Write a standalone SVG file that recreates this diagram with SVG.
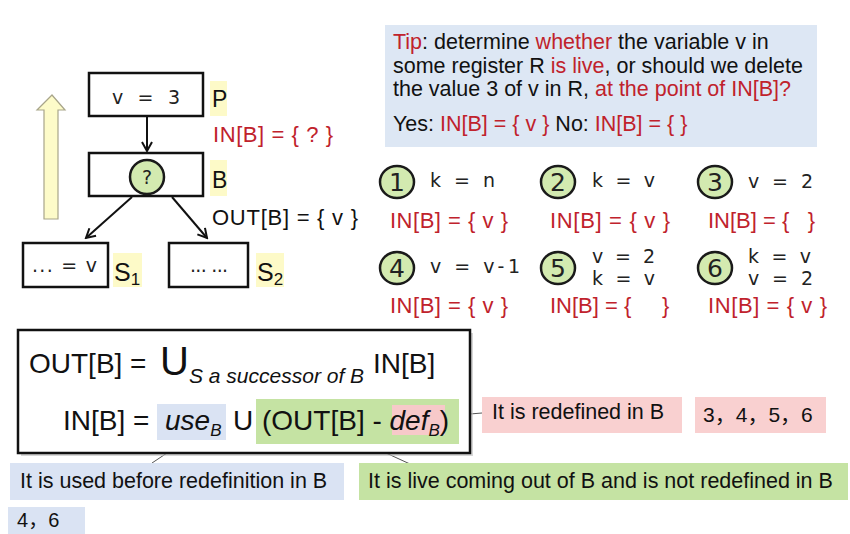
<svg xmlns="http://www.w3.org/2000/svg" width="850" height="534" viewBox="0 0 850 534">
<defs>
<style>
.t{font-family:"Liberation Sans",Arial,sans-serif;}
.cjk{font-family:"Noto Sans CJK SC","Liberation Sans",sans-serif;}
.c{font-family:"DejaVu Sans",Verdana,sans-serif;font-size:19px;fill:#222;}
.d{font-family:"DejaVu Sans",Verdana,sans-serif;font-size:25px;fill:#222;text-anchor:middle;}
.red{fill:#c0222c;}
.blk{fill:#111;}
.box{fill:#fff;stroke:#111;stroke-width:2.5;}
.num{fill:#d3eab0;stroke:#1a1a1a;stroke-width:2.5;}
.hl{fill:#fdfac8;}
.edge{stroke:#111;stroke-width:2;fill:none;}
.lead{stroke:#555;stroke-width:1;fill:none;}
</style>
<marker id="ah" viewBox="0 0 12 12" refX="10" refY="6" markerWidth="12" markerHeight="12" markerUnits="userSpaceOnUse" orient="auto">
<path d="M1,1 L10,6 L1,11" fill="none" stroke="#111" stroke-width="2"/>
</marker>
</defs>
<rect width="850" height="534" fill="#fff"/>

<!-- yellow up arrow -->
<path d="M52,95 L65,110 L58,110 L58,219 L44,219 L44,110 L37,110 Z" fill="#fdfbc9" stroke="#a8a58a" stroke-width="1.2"/>

<g id="nodeP">
<rect class="box" x="89" y="73" width="114" height="43"/>
<text class="c" x="112" y="104" textLength="68">v = 3</text>
<rect class="hl" x="210" y="81" width="17" height="35"/>
<text class="t blk" x="212" y="107" font-size="23">P</text>
</g>
<text class="t red" x="213" y="142" font-size="22" textLength="120">IN[B] = { ? }</text>

<g id="nodeB">
<rect class="box" x="89" y="153" width="114" height="43"/>
<circle class="num" cx="147" cy="177" r="17" stroke-width="1.8"/>
<text class="c" x="147" y="184" text-anchor="middle" font-size="19">?</text>
<rect class="hl" x="210" y="160" width="17" height="36"/>
<text class="t blk" x="212" y="188" font-size="23">B</text>
</g>
<text class="t blk" x="212" y="225" font-size="22" textLength="146">OUT[B] = { v }</text>

<g id="nodeS1">
<rect class="box" x="23" y="243" width="85" height="44"/>
<text class="c" x="32" y="272" font-size="18" textLength="65">... = v</text>
<rect class="hl" x="113" y="253" width="29" height="34"/>
<text class="t blk" x="114" y="281" font-size="25">S<tspan font-size="17" dy="4">1</tspan></text>
</g>
<g id="nodeS2">
<rect class="box" x="169" y="243" width="79" height="44"/>
<text class="c" x="190" y="272" font-size="18" textLength="38">... ...</text>
<rect class="hl" x="256" y="253" width="28" height="34"/>
<text class="t blk" x="257" y="281" font-size="25">S<tspan font-size="17" dy="4">2</tspan></text>
</g>

<g id="connectors">
<line class="edge" x1="147" y1="116" x2="147" y2="151" marker-end="url(#ah)"/>
<line class="edge" x1="132" y1="197" x2="86" y2="238" marker-end="url(#ah)"/>
<line class="edge" x1="172" y1="197" x2="207" y2="238" marker-end="url(#ah)"/>
<line class="lead" x1="433" y1="417" x2="482" y2="413"/>
<line class="lead" x1="185" y1="441" x2="152" y2="463"/>
<line class="lead" x1="362" y1="442" x2="410" y2="464"/>
</g>

<!-- Tip box -->
<g id="tip">
<rect x="385" y="25" width="432" height="122" fill="#dde7f4"/>
<text class="t blk" x="393" y="49" font-size="21.5"><tspan class="red">Tip</tspan>: determine <tspan class="red">whether</tspan> the variable v in</text>
<text class="t blk" x="393" y="73" font-size="21.5">some register R <tspan class="red">is live</tspan>, or should we delete</text>
<text class="t blk" x="393" y="96" font-size="21.5">the value 3 of v in R, <tspan class="red">at the point of IN[B]?</tspan></text>
<text class="t blk" x="393" y="131" font-size="21.5">Yes: <tspan class="red">IN[B] = { v }</tspan> No: <tspan class="red">IN[B] = { }</tspan></text>
</g>

<!-- options -->
<g id="opt1">
<ellipse class="num" cx="397" cy="182" rx="17" ry="16"/>
<text class="d" x="397" y="191">1</text>
<text class="c" x="430" y="187" textLength="65">k = n</text>
<text class="t red" x="390" y="228" font-size="22" textLength="118">IN[B] = { v }</text>
</g>
<g id="opt2">
<ellipse class="num" cx="558" cy="182" rx="17" ry="16"/>
<text class="d" x="558" y="191">2</text>
<text class="c" x="592" y="187" textLength="63">k = v</text>
<text class="t red" x="550" y="228" font-size="22" textLength="120">IN[B] = { v }</text>
</g>
<g id="opt3">
<ellipse class="num" cx="715" cy="182" rx="17" ry="16"/>
<text class="d" x="715" y="191">3</text>
<text class="c" x="748" y="188" textLength="65">v = 2</text>
<text class="t red" x="708" y="228" font-size="22" xml:space="preserve">IN[B] = {   }</text>
</g>
<g id="opt4">
<ellipse class="num" cx="397" cy="268" rx="17" ry="16"/>
<text class="d" x="397" y="277">4</text>
<text class="c" x="430" y="273" textLength="90">v = v-1</text>
<text class="t red" x="390" y="313" font-size="22" textLength="118">IN[B] = { v }</text>
</g>
<g id="opt5">
<ellipse class="num" cx="558" cy="268" rx="17" ry="16"/>
<text class="d" x="558" y="277">5</text>
<text class="c" x="592" y="263" textLength="63">v = 2</text>
<text class="c" x="592" y="285" textLength="63">k = v</text>
<text class="t red" x="550" y="313" font-size="22" xml:space="preserve">IN[B] = {     }</text>
</g>
<g id="opt6">
<ellipse class="num" cx="715" cy="268" rx="17" ry="16"/>
<text class="d" x="715" y="277">6</text>
<text class="c" x="748" y="263" textLength="63">k = v</text>
<text class="c" x="748" y="285" textLength="65">v = 2</text>
<text class="t red" x="708" y="313" font-size="22" textLength="119">IN[B] = { v }</text>
</g>

<!-- formula box -->
<g id="formula">
<rect x="21" y="333" width="452" height="123" fill="#bbb" opacity="0.6"/>
<rect x="18" y="330" width="452" height="123" fill="#fff" stroke="#111" stroke-width="2.5"/>
<text class="t blk" x="29" y="373" font-size="28">OUT[B] = </text>
<text class="t blk" x="160" y="375" font-size="40">U</text>
<text class="t blk" x="189" y="383" font-size="21" font-style="italic">S a successor of B</text>
<text class="t blk" x="373" y="373" font-size="28">IN[B]</text>
<rect x="157" y="404" width="69" height="36" fill="#dae3f3"/>
<rect x="256" y="399" width="203" height="45" fill="#c5e3a3"/>
<rect x="392" y="405" width="53" height="30" fill="#f7c9c9"/>
<text class="t blk" x="63" y="430" font-size="28">IN[B] = </text>
<text class="t blk" x="165" y="430" font-size="28" font-style="italic">use<tspan font-size="17" dy="6">B</tspan></text>
<text class="t blk" x="233" y="430" font-size="28">U</text>
<text class="t blk" x="262" y="430" font-size="28">(OUT[B] - <tspan font-style="italic">def</tspan><tspan font-style="italic" font-size="17" dy="6">B</tspan><tspan dy="-6">)</tspan></text>
</g>

<g id="redef">
<rect x="482" y="397" width="200" height="36" fill="#f9d0d0"/>
<text class="t blk" x="492" y="419" font-size="21.5">It is redefined in B</text>
</g>
<g id="redefNums">
<rect x="695" y="397" width="131" height="36" fill="#f9d0d0"/>
<text class="t blk" x="703" y="422" font-size="21">3<tspan class="cjk">，</tspan>4<tspan class="cjk">，</tspan>5<tspan class="cjk">，</tspan>6</text>
</g>
<g id="used">
<rect x="10" y="463" width="334" height="37" fill="#dae3f3"/>
<text class="t blk" x="20" y="488" font-size="21.5">It is used before redefinition in B</text>
</g>
<g id="live">
<rect x="359" y="463" width="489" height="37" fill="#c5e3a3"/>
<text class="t blk" x="368" y="488" font-size="21.5">It is live coming out of B and is not redefined in B</text>
</g>
<g id="usedNums">
<rect x="8" y="507" width="77" height="27" fill="#dae3f3"/>
<text class="t blk" x="17" y="527" font-size="20">4<tspan class="cjk">，</tspan>6</text>
</g>
</svg>
